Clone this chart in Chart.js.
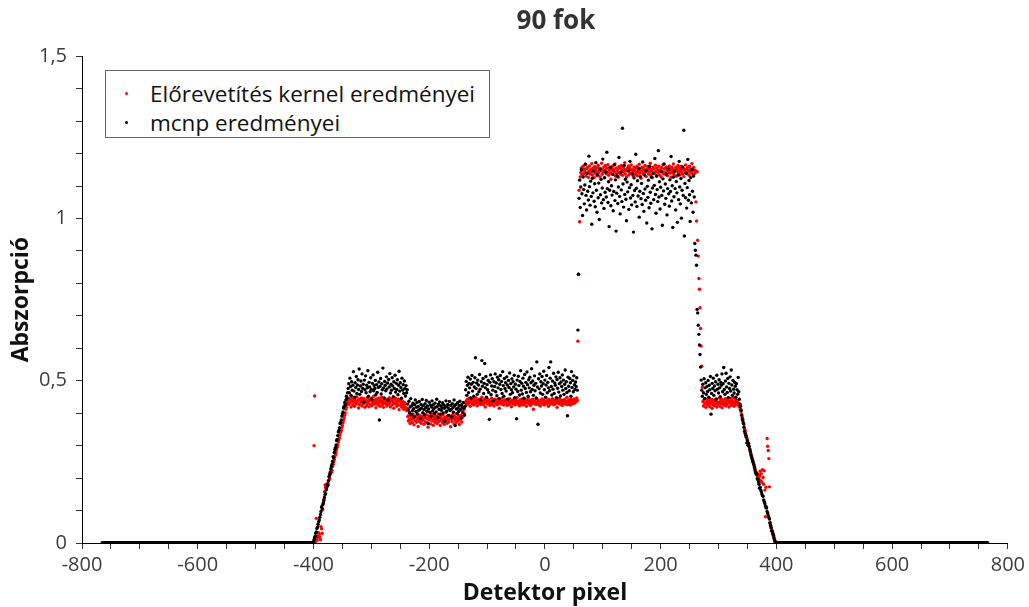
<!DOCTYPE html>
<html>
<head>
<meta charset="utf-8">
<script src="https://cdn.jsdelivr.net/npm/chart.js@4/dist/chart.umd.min.js"></script>
<style>
  html, body { margin: 0; background: #fff; }
  #wrap { position: relative; width: 1029px; height: 607px; }
  #legend {
    position: absolute; left: 105px; top: 70px; width: 385px; height: 68px;
    box-sizing: border-box; border: 1px solid #666; background: #fff;
    padding-top: 8px; font: 22.5px 'Open Sans', sans-serif; color: #111;
  }
  #legend .row { position: relative; height: 29px; line-height: 29px; padding-left: 44px; white-space: nowrap; }
  #legend .dot { position: absolute; left: 19px; top: 13px; width: 3px; height: 3px; border-radius: 50%; }
</style>
</head>
<body>
<div id="wrap">
  <canvas id="myChart" width="1029" height="607"></canvas>
  <div id="legend"></div>
</div>
<script>
// detector pixels run from firstPixel upwards in steps of 1
const firstPixel = -765;

// no absorption outside the object (used at both ends of the detector)
const outsideZeros = [
  0,0,0,0,0,0,0,0,0,0, 0,0,0,0,0,0,0,0,0,0, 0,0,0,0,0,0,0,0,0,0, 0,0,0,0,0,0,0,0,0,0, 0,0,0,0,0,0,0,0,0,0,
  0,0,0,0,0,0,0,0,0,0, 0,0,0,0,0,0,0,0,0,0, 0,0,0,0,0,0,0,0,0,0, 0,0,0,0,0,0,0,0,0,0, 0,0,0,0,0,0,0,0,0,0,
  0,0,0,0,0,0,0,0,0,0, 0,0,0,0,0,0,0,0,0,0, 0,0,0,0,0,0,0,0,0,0, 0,0,0,0,0,0,0,0,0,0, 0,0,0,0,0,0,0,0,0,0,
  0,0,0,0,0,0,0,0,0,0, 0,0,0,0,0,0,0,0,0,0, 0,0,0,0,0,0,0,0,0,0, 0,0,0,0,0,0,0,0,0,0, 0,0,0,0,0,0,0,0,0,0,
  0,0,0,0,0,0,0,0,0,0, 0,0,0,0,0,0,0,0,0,0, 0,0,0,0,0,0,0,0,0,0, 0,0,0,0,0,0,0,0,0,0, 0,0,0,0,0,0,0,0,0,0,
  0,0,0,0,0,0,0,0,0,0, 0,0,0,0,0,0,0,0,0,0, 0,0,0,0,0,0,0,0,0,0, 0,0,0,0,0,0,0,0,0,0, 0,0,0,0,0,0,0,0,0,0,
  0,0,0,0,0,0,0,0,0,0, 0,0,0,0,0,0,0,0,0,0, 0,0,0,0,0,0,0,0,0,0, 0,0,0,0,0,0,0,0,0,0, 0,0,0,0,0,0,0,0,0,0,
  0,0,0,0,0,0,0,0,0,0, 0,0,0,0,0
];

// ---- Előrevetítés kernel (red) ----
const kernelRampLeft = [
  0,0.300,0.453,0.003,0.012,0.076,0.008,0.021,0.017,0.032,
  0.027,0.019,0.010,0.050,0.044,0.030,0.103,0.121,0.134,0.158,
  0.179,0.172,0.168,0.181,0.176,0.184,0.193,0.205,0.198,0.212,
  0.221,0.218,0.224,0.236,0.243,0.251,0.257,0.266,0.272,0.279,
  0.287,0.295,0.302,0.311,0.318,0.324,0.333,0.341,0.347,0.356,
  0.362,0.371,0.379,0.386,0.394,0.401,0.412,0.418,0.427,0.432
];
const kernelShelfA = [
  0.438,0.427,0.446,0.431,0.442,0.419,0.436,0.449,0.425,0.440,
  0.433,0.421,0.444,0.437,0.428,0.451,0.430,0.439,0.416,0.443,
  0.426,0.441,0.434,0.447,0.422,0.438,0.429,0.445,0.432,0.418,
  0.440,0.435,0.424,0.448,0.431,0.437,0.420,0.443,0.428,0.439,
  0.446,0.423,0.436,0.430,0.452,0.427,0.441,0.433,0.417,0.444,
  0.429,0.438,0.425,0.447,0.435,0.421,0.440,0.432,0.449,0.426,
  0.437,0.418,0.442,0.431,0.445,0.428,0.436,0.422,0.441,0.434,
  0.427,0.448,0.433,0.419,0.439,0.444,0.425,0.437,0.430,0.415,
  0.442,0.429,0.446,0.434,0.421,0.438,0.427,0.443,0.411,0.436,
  0.424,0.440,0.431,0.418,0.437,0.426,0.412,0.433,0.420,0.429,
  0.416,0.408,0.414
];
const kernelDip = [
  0.389,0.376,0.394,0.381,0.368,0.392,0.379,0.386,0.371,0.398,
  0.383,0.364,0.391,0.377,0.388,0.372,0.396,0.381,0.359,0.387,
  0.375,0.393,0.382,0.369,0.390,0.378,0.401,0.384,0.366,0.389,
  0.374,0.386,0.395,0.371,0.383,0.357,0.392,0.379,0.388,0.367,
  0.385,0.398,0.376,0.389,0.363,0.381,0.394,0.372,0.387,0.379,
  0.391,0.368,0.384,0.397,0.375,0.386,0.362,0.390,0.378,0.383,
  0.371,0.395,0.382,0.366,0.388,0.377,0.402,0.385,0.369,0.391,
  0.380,0.373,0.393,0.386,0.358,0.381,0.389,0.374,0.396,0.384,
  0.367,0.390,0.379,0.387,0.372,0.399,0.383,0.376,0.392,0.365,
  0.388,0.381,0.394,0.373,0.386,0.405,0.391,0.412,0.398,0.421
];
const kernelShelfB = [
  0.431,0.438,0.426,0.442,0.435,0.429,0.446,0.433,0.421,0.439,
  0.436,0.428,0.444,0.432,0.425,0.441,0.437,0.430,0.447,0.434,
  0.423,0.440,0.435,0.429,0.443,0.438,0.427,0.433,0.449,0.431,
  0.437,0.426,0.442,0.434,0.419,0.439,0.432,0.445,0.428,0.436,
  0.441,0.430,0.424,0.437,0.433,0.446,0.427,0.435,0.440,0.422,
  0.434,0.443,0.429,0.438,0.431,0.426,0.444,0.436,0.415,0.432,
  0.439,0.428,0.435,0.447,0.430,0.437,0.425,0.441,0.433,0.429,
  0.436,0.442,0.424,0.434,0.439,0.427,0.445,0.431,0.438,0.420,
  0.433,0.440,0.428,0.436,0.443,0.430,0.426,0.439,0.434,0.448,
  0.429,0.437,0.432,0.423,0.441,0.435,0.427,0.444,0.431,0.438,
  0.425,0.436,0.442,0.430,0.434,0.421,0.439,0.433,0.446,0.428,
  0.437,0.431,0.424,0.440,0.435,0.429,0.443,0.412,0.436,0.432,
  0.438,0.427,0.445,0.433,0.430,0.441,0.426,0.437,0.434,0.422,
  0.439,0.432,0.444,0.428,0.435,0.440,0.425,0.436,0.431,0.447,
  0.429,0.438,0.433,0.421,0.442,0.436,0.427,0.434,0.439,0.430,
  0.445,0.432,0.426,0.437,0.441,0.428,0.435,0.443,0.418,0.434,
  0.438,0.430,0.446,0.433,0.427,0.440,0.436,0.424,0.439,0.431,
  0.435,0.442,0.428,0.437,0.432,0.449,0.426,0.434,0.441,0.430,
  0.437,0.425,0.443,0.433,0.439,0.429,0.436,0.444,0.431,0.438,
  0.442,0.435,0.447,0.440
];
const kernelJump = [0.622, 0.828];
const kernelPeak = [
  1.087,0.990,1.128,1.142,1.156,1.135,1.149,1.161,1.138,1.152,
  1.144,1.167,1.131,1.153,1.140,1.158,1.127,1.146,1.162,1.137,
  1.151,1.143,1.169,1.134,1.155,1.148,1.126,1.160,1.139,1.153,
  1.145,1.132,1.157,1.164,1.141,1.150,1.129,1.154,1.147,1.170,
  1.136,1.152,1.143,1.159,1.125,1.148,1.163,1.138,1.155,1.142,
  1.166,1.133,1.149,1.157,1.140,1.121,1.153,1.146,1.161,1.135,
  1.150,1.144,1.168,1.131,1.156,1.139,1.152,1.145,1.127,1.160,
  1.141,1.155,1.136,1.163,1.148,1.133,1.158,1.143,1.151,1.172,
  1.137,1.149,1.128,1.154,1.146,1.162,1.134,1.157,1.140,1.150,
  1.165,1.138,1.152,1.144,1.130,1.159,1.147,1.136,1.155,1.142,
  1.161,1.132,1.150,1.145,1.167,1.139,1.153,1.124,1.148,1.158,
  1.141,1.156,1.135,1.149,1.163,1.143,1.129,1.152,1.146,1.160,
  1.137,1.154,1.144,1.170,1.133,1.151,1.147,1.126,1.158,1.140,
  1.153,1.139,1.164,1.145,1.131,1.156,1.148,1.142,1.161,1.134,
  1.150,1.146,1.128,1.157,1.143,1.166,1.138,1.152,1.141,1.155,
  1.135,1.159,1.147,1.132,1.154,1.144,1.162,1.139,1.150,1.127,
  1.158,1.142,1.151,1.168,1.136,1.149,1.145,1.157,1.130,1.153,
  1.146,1.163,1.140,1.155,1.134,1.148,1.160,1.143,1.152,1.137,
  1.156,1.129,1.150,1.145,1.165,1.141,1.153,1.138,1.158,1.147,
  1.133,1.161,1.144,1.152,1.140,1.169,1.146,1.135,1.157,1.148,
  1.139,1.148,1.051,0.992,1.144
];
const kernelFall = [0.933,0.884,0.815,0.782,0.725,0.661,0.607,0.545,0.480];
const kernelShelfC = [
  0.436,0.422,0.441,0.429,0.445,0.418,0.433,0.427,0.439,0.424,
  0.431,0.446,0.420,0.437,0.428,0.442,0.415,0.434,0.426,0.440,
  0.423,0.438,0.430,0.444,0.419,0.435,0.427,0.432,0.447,0.421,
  0.436,0.429,0.443,0.417,0.433,0.440,0.425,0.438,0.430,0.445,
  0.422,0.435,0.428,0.441,0.434,0.419,0.437,0.431,0.446,0.424,
  0.439,0.427,0.433,0.448,0.421,0.436,0.429,0.442,0.426,0.434,
  0.438,0.425,0.431,0.419,0.427,0.412,0.405
];
const kernelRampRight = [
  0.396,0.388,0.381,0.370,0.365,0.352,0.347,0.336,0.331,0.322,
  0.318,0.309,0.303,0.296,0.288,0.283,0.275,0.268,0.262,0.255,
  0.249,0.243,0.236,0.229,0.221,0.217,0.209,0.214,0.203,0.211,
  0.198,0.206,0.221,0.192,0.213,0.187,0.226,0.202,0.181,0.223,
  0.163,0.081,0.172,0.112,0.322,0.298,0.285,0.260,0.173,0.064,
  0.052,0.047,0.039,0.033,0.026,0.019,0.013,0.008,0.003,0.001,
  0
];

// ---- mcnp (black) ----
const mcnpRampLeft = [
  0.004,0.010,0.016,0.021,0.030,0.034,0.045,0.049,0.058,0.066,
  0.071,0.079,0.088,0.097,0.112,0.106,0.118,0.124,0.131,0.140,
  0.149,0.152,0.163,0.170,0.181,0.178,0.192,0.204,0.211,0.218,
  0.229,0.236,0.242,0.251,0.266,0.262,0.279,0.288,0.294,0.302,
  0.316,0.319,0.331,0.342,0.347,0.355,0.368,0.372,0.379,0.391,
  0.398,0.404,0.416,0.421,0.433,0.427,0.441,0.452,0.446,0.463
];
const mcnpShelfA = [
  0.476,0.491,0.463,0.508,0.482,0.455,0.497,0.471,0.486,0.528,
  0.468,0.449,0.494,0.479,0.513,0.461,0.487,0.503,0.473,0.536,
  0.458,0.484,0.499,0.467,0.521,0.477,0.489,0.434,0.502,0.472,
  0.515,0.463,0.486,0.478,0.531,0.452,0.495,0.481,0.466,0.509,
  0.474,0.443,0.492,0.518,0.469,0.485,0.476,0.501,0.457,0.488,
  0.464,0.526,0.479,0.496,0.379,0.483,0.507,0.459,0.491,0.472,
  0.539,0.478,0.447,0.498,0.486,0.469,0.512,0.475,0.493,0.441,
  0.504,0.481,0.522,0.462,0.489,0.471,0.509,0.484,0.451,0.497,
  0.476,0.517,0.465,0.492,0.473,0.503,0.457,0.486,0.529,0.468,
  0.494,0.479,0.446,0.508,0.471,0.488,0.461,0.499,0.476,0.453,
  0.485,0.463,0.472
];
const mcnpDip = [
  0.428,0.411,0.437,0.402,0.419,0.445,0.396,0.423,0.408,0.431,
  0.414,0.389,0.426,0.441,0.405,0.418,0.433,0.398,0.421,0.409,
  0.436,0.412,0.384,0.427,0.416,0.442,0.401,0.424,0.411,0.395,
  0.429,0.417,0.439,0.406,0.422,0.368,0.413,0.434,0.403,0.425,
  0.391,0.419,0.438,0.407,0.426,0.414,0.399,0.431,0.418,0.404,
  0.443,0.421,0.386,0.428,0.412,0.435,0.397,0.423,0.409,0.417,
  0.432,0.401,0.426,0.415,0.375,0.421,0.438,0.406,0.419,0.427,
  0.393,0.414,0.436,0.408,0.424,0.411,0.389,0.429,0.417,0.403,
  0.441,0.422,0.362,0.427,0.413,0.398,0.432,0.416,0.405,0.424,
  0.437,0.411,0.385,0.426,0.418,0.402,0.433,0.415,0.394,0.421
];
const mcnpShelfB = [
  0.472,0.498,0.455,0.486,0.511,0.463,0.492,0.478,0.505,0.447,
  0.489,0.516,0.468,0.495,0.452,0.481,0.509,0.571,0.476,0.493,
  0.458,0.502,0.487,0.466,0.519,0.474,0.441,0.497,0.562,0.483,
  0.507,0.461,0.492,0.553,0.478,0.513,0.449,0.488,0.472,0.501,
  0.464,0.381,0.495,0.518,0.457,0.484,0.506,0.471,0.439,0.497,
  0.482,0.521,0.466,0.493,0.454,0.511,0.478,0.503,0.445,0.489,
  0.516,0.473,0.498,0.461,0.528,0.485,0.452,0.507,0.476,0.494,
  0.468,0.512,0.487,0.443,0.501,0.479,0.524,0.458,0.491,0.472,
  0.506,0.463,0.497,0.481,0.517,0.448,0.489,0.474,0.383,0.502,
  0.467,0.514,0.485,0.456,0.498,0.531,0.471,0.492,0.459,0.508,
  0.483,0.446,0.519,0.476,0.495,0.464,0.527,0.488,0.452,0.503,
  0.478,0.511,0.466,0.494,0.537,0.473,0.499,0.455,0.486,0.515,
  0.469,0.492,0.447,0.558,0.481,0.366,0.506,0.475,0.521,0.462,
  0.497,0.484,0.513,0.458,0.491,0.529,0.472,0.502,0.449,0.487,
  0.516,0.463,0.495,0.478,0.541,0.469,0.508,0.558,0.482,0.456,
  0.499,0.474,0.523,0.461,0.493,0.486,0.512,0.448,0.504,0.477,
  0.526,0.465,0.491,0.509,0.453,0.496,0.482,0.518,0.471,0.502,
  0.458,0.489,0.533,0.476,0.497,0.464,0.392,0.511,0.483,0.469,
  0.507,0.494,0.452,0.528,0.479,0.501,0.466,0.515,0.488,0.473,
  0.496,0.482,0.509,0.471
];
const mcnpJump = [0.656, 0.828];
const mcnpPeak = [
  1.062,1.118,1.034,1.097,1.151,1.076,1.009,1.128,1.089,1.045,
  1.103,1.167,1.071,1.026,1.139,1.084,1.057,1.192,1.098,1.041,
  1.115,1.068,0.982,1.124,1.079,1.146,1.053,1.107,1.036,1.172,
  1.087,1.019,1.135,1.064,1.109,0.997,1.152,1.073,1.121,1.048,
  1.094,1.183,1.058,1.031,1.126,1.081,1.143,1.066,1.204,1.092,
  1.049,1.113,0.975,1.087,1.158,1.039,1.101,1.072,1.136,1.024,
  1.083,1.166,1.055,1.119,0.961,1.078,1.131,1.046,1.097,1.188,
  1.068,1.014,1.142,1.088,1.052,1.278,1.106,1.035,1.163,1.074,
  1.121,1.059,0.993,1.112,1.082,1.147,1.028,1.095,1.176,1.063,
  1.104,1.042,1.137,1.071,0.958,1.125,1.086,1.051,1.198,1.093,
  1.037,1.116,1.069,1.155,1.004,1.084,1.129,1.061,1.108,1.043,
  1.174,1.077,1.022,1.134,1.091,1.056,1.148,0.986,1.099,1.065,
  1.118,1.033,1.161,1.081,1.047,1.127,0.968,1.094,1.139,1.058,
  1.102,1.185,1.074,1.016,1.131,1.089,1.052,1.209,1.066,1.113,
  1.029,1.096,1.144,1.071,0.979,1.122,1.085,1.168,1.044,1.106,
  1.062,1.137,1.011,1.092,1.153,1.076,1.038,1.119,1.083,1.191,
  1.054,1.101,0.972,1.128,1.067,1.145,1.092,1.026,1.114,1.079,
  0.988,1.134,1.058,1.176,1.097,1.045,1.123,1.001,1.087,1.159,
  1.071,1.272,0.946,1.108,1.064,1.139,1.032,1.095,1.182,1.056,
  1.117,1.073,0.991,1.126,1.048,1.151,1.084,1.019,1.131,1.066
];
const mcnpFall = [0.923,0.902,0.887,0.856,0.720,0.709,0.671,0.643,0.610,0.581,0.542,0.502];
const mcnpShelfC = [
  0.471,0.452,0.489,0.463,0.506,0.445,0.478,0.494,0.458,0.482,
  0.467,0.501,0.449,0.486,0.472,0.513,0.397,0.461,0.492,0.476,
  0.508,0.455,0.484,0.469,0.497,0.443,0.517,0.474,0.489,0.462,
  0.503,0.478,0.451,0.495,0.486,0.521,0.466,0.491,0.541,0.473,
  0.458,0.499,0.523,0.481,0.464,0.507,0.448,0.492,0.476,0.512,
  0.468,0.533,0.487,0.455,0.501,0.474,0.462,0.495,0.483,0.449,
  0.491,0.472,0.458,0.510,0.466,0.443,0.428
];
const mcnpRampRight = [
  0.421,0.409,0.394,0.383,0.376,0.368,0.357,0.344,0.338,0.331,
  0.326,0.309,0.315,0.301,0.307,0.298,0.289,0.281,0.272,0.266,
  0.259,0.253,0.247,0.241,0.233,0.225,0.216,0.214,0.212,0.199,
  0.196,0.188,0.181,0.169,0.172,0.163,0.158,0.151,0.146,0.144,
  0.133,0.128,0.122,0.114,0.109,0.108,0.097,0.091,0.084,0.078,
  0.074,0.061,0.055,0.047,0.038,0.036,0.029,0.024,0.016,0.009,
  0.004,0.002,0
];

const kernelValues = [].concat(outsideZeros, kernelRampLeft, kernelShelfA, kernelDip, kernelShelfB,
  kernelJump, kernelPeak, kernelFall, kernelShelfC, kernelRampRight, outsideZeros);
const mcnpValues = [].concat(outsideZeros, mcnpRampLeft, mcnpShelfA, mcnpDip, mcnpShelfB,
  mcnpJump, mcnpPeak, mcnpFall, mcnpShelfC, mcnpRampRight, outsideZeros);

const toPoints = (values) => values.map((y, i) => ({ x: firstPixel + i, y: y }));

const fontFamily = "'Open Sans', sans-serif";
const tickColor = '#3d3d3d';

// nudge the title a little to the right of the plot centre
const titleShift = {
  id: 'titleShift',
  afterLayout(chart) {
    const t = chart.titleBlock;
    if (t) { t.left += 11; t.right += 11; }
  }
};

const ctx = document.getElementById('myChart').getContext('2d');
const chart = new Chart(ctx, {
  type: 'scatter',
  data: {
    datasets: [
      {
        label: 'Előrevetítés kernel eredményei',
        data: toPoints(kernelValues),
        backgroundColor: '#ff0000',
        pointRadius: 1.7,
        pointBorderWidth: 0,
        order: 1
      },
      {
        label: 'mcnp eredményei',
        data: toPoints(mcnpValues),
        backgroundColor: '#000000',
        pointRadius: 1.7,
        pointBorderWidth: 0,
        order: 0
      }
    ]
  },
  options: {
    responsive: false,
    animation: false,
    devicePixelRatio: 1,
    layout: { padding: { left: 0, right: 18, top: 0, bottom: 0 } },
    plugins: {
      legend: { display: false },
      tooltip: { enabled: false },
      title: {
        display: true,
        text: '90 fok',
        fullSize: false,
        color: '#333',
        font: { family: fontFamily, size: 26, weight: 'bold' },
        padding: { top: 6, bottom: 19 }
      }
    },
    scales: {
      x: {
        type: 'linear',
        min: -800,
        max: 800,
        afterFit: (scale) => { scale.height = 64; },
        border: { display: true, color: '#000', width: 1 },
        grid: { drawOnChartArea: false, drawTicks: true, tickLength: 6, color: '#333' },
        ticks: {
          stepSize: 50,
          autoSkip: false,
          maxRotation: 0,
          padding: 4,
          color: tickColor,
          font: { family: fontFamily, size: 20 },
          callback: (v) => (v % 200 === 0 ? String(v) : '')
        },
        title: {
          display: true,
          text: 'Detektor pixel',
          color: '#111',
          font: { family: fontFamily, size: 23, weight: 'bold' },
          padding: { top: 0, bottom: 0 }
        }
      },
      y: {
        min: 0,
        max: 1.5,
        afterFit: (scale) => { scale.width = 82; },
        border: { display: true, color: '#000', width: 1 },
        grid: { drawOnChartArea: false, drawTicks: true, tickLength: 6, color: '#333' },
        ticks: {
          stepSize: 0.1,
          autoSkip: false,
          padding: 9,
          color: tickColor,
          font: { family: fontFamily, size: 20 },
          callback: (v) => (Math.abs(v * 2 - Math.round(v * 2)) < 1e-6 ? String(v).replace('.', ',') : '')
        },
        title: {
          display: true,
          text: 'Abszorpció',
          color: '#111',
          font: { family: fontFamily, size: 23, weight: 'bold' },
          padding: { top: 8, bottom: 0 }
        }
      }
    }
  },
  plugins: [titleShift]
});

// legend box drawn over the plot area, built from the datasets
const legendBox = document.getElementById('legend');
chart.data.datasets.forEach((ds) => {
  const row = document.createElement('div');
  row.className = 'row';
  const dot = document.createElement('span');
  dot.className = 'dot';
  dot.style.background = ds.backgroundColor;
  const text = document.createElement('span');
  text.textContent = ds.label;
  row.appendChild(dot);
  row.appendChild(text);
  legendBox.appendChild(row);
});
</script>
</body>
</html>
